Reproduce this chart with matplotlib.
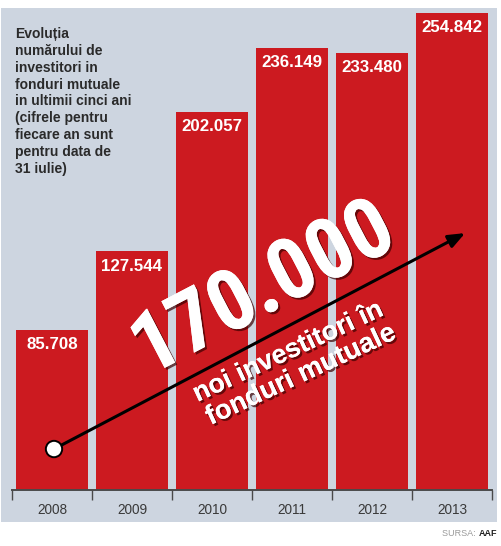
import matplotlib
matplotlib.use("Agg")
import matplotlib.pyplot as plt
import matplotlib.patheffects as pe
from matplotlib import font_manager
from matplotlib.patches import Rectangle, Circle

years = ["2008", "2009", "2010", "2011", "2012", "2013"]
investors = [85708, 127544, 202057, 236149, 233480, 254842]
value_labels = ["85.708", "127.544", "202.057", "236.149", "233.480", "254.842"]
title = ("Evoluția\nnumărului de\ninvestitori in\nfonduri mutuale\nin ultimii cinci ani\n"
         "(cifrele pentru\nfiecare an sunt\npentru data de\n31 iulie)")
headline = "170.000"
subline = ["noi investitori în", "fonduri mutuale"]

RED = "#cc1a20"; PANEL = "#cdd5e0"; INK = "#2a2a2a"; AXIS = "#4a4a4a"

SANS = "Liberation Sans"
# narrowest bold face on hand for the big slanted headline
names = {f.name for f in font_manager.fontManager.ttflist}
HEADFAM = SANS
for cand in ["Liberation Sans Narrow", "Roboto Condensed", "Open Sans Condensed", "Roboto"]:
    if cand in names:
        HEADFAM = cand
        break

W, H = 501, 546
fig = plt.figure(figsize=(W / 100, H / 100), dpi=100)
fig.patch.set_facecolor("white")
fig.add_artist(Rectangle((1 / W, (H - 522) / H), 496 / W, 514 / H,
                         transform=fig.transFigure, facecolor=PANEL, edgecolor="none", zorder=0))

ax = fig.add_axes([12 / W, 56 / H, 480 / W, 482 / H])
ax.set_facecolor("none")
ax.set_xlim(-0.5, 5.5)
ax.set_ylim(0, 257500)
x = list(range(len(years)))
ax.bar(x, investors, width=0.91, color=RED, zorder=2)
for xi, v, lab in zip(x, investors, value_labels):
    ax.annotate(lab, (xi, v), xytext=(0, -15), textcoords="offset pixels",
                ha="center", va="center", color="white", fontsize=12.2,
                weight="bold", family=SANS, zorder=3)

for s in ["top", "right", "left"]:
    ax.spines[s].set_visible(False)
ax.spines["bottom"].set_color(AXIS)
ax.spines["bottom"].set_linewidth(1.4)
ax.spines["bottom"].set_zorder(4)
ax.set_yticks([])
ax.set_xticks([i - 0.5 for i in range(len(years) + 1)])
ax.set_xticklabels([])
ax.tick_params(axis="x", which="major", length=7, width=1, color=AXIS, direction="out")
ax.set_xticks(x, minor=True)
ax.set_xticklabels(years, minor=True, fontsize=9.8, color="#3a3a3a", family=SANS)
ax.tick_params(axis="x", which="minor", length=0, pad=9)

fig.text(15 / W, 1 - 27 / H, title, ha="left", va="top", fontsize=10, weight="bold",
         color=INK, family=SANS, linespacing=1.26)

# growth arrow with start dot
ax.annotate("", xy=(0.944, 0.533), xytext=(0.0875, 0.085), xycoords="axes fraction",
            arrowprops=dict(arrowstyle="-|>,head_length=1.0,head_width=0.4", color="black",
                            lw=2.2, shrinkA=0, shrinkB=0), zorder=6)
ax.add_patch(Circle((0.0875, 0.085), 0.017, transform=ax.transAxes, facecolor="white",
                    edgecolor="black", lw=1.4, zorder=7))

shadow = [pe.withSimplePatchShadow(offset=(1.5, -1.5), shadow_rgbFace="#3a0000", alpha=0.7), pe.Normal()]
renderer = fig.canvas.get_renderer()


def fitted(text, xf, yf, target, rot, size, fam):
    t = ax.text(xf, yf, text, transform=ax.transAxes, ha="center", va="center",
                rotation_mode="anchor", color="white", weight="bold", family=fam,
                fontsize=size, zorder=5, path_effects=shadow)
    w = t.get_window_extent(renderer).width
    t.set_fontsize(size * target / w)
    t.set_rotation(rot)
    return t


fitted(headline, 0.524, 0.415, 284, 27.5, 60, HEADFAM)
fitted(subline[0], 0.575, 0.286, 206, 25, 16, SANS)
fitted(subline[1], 0.602, 0.238, 206, 25, 16, SANS)

fig.text(497 / W, 1 - 534 / H, "SURSA: ", ha="right", va="center", fontsize=6.5,
         color="#9a9a9a", family=SANS)
t_src = fig.text(497 / W, 1 - 534 / H, "AAF", ha="right", va="center", fontsize=6.5,
                 color="#222222", weight="bold", family=SANS)
w_aaf = t_src.get_window_extent(renderer).width
fig.texts[-2].set_x((497 - w_aaf) / W)

fig.savefig("out.png", dpi=100)
